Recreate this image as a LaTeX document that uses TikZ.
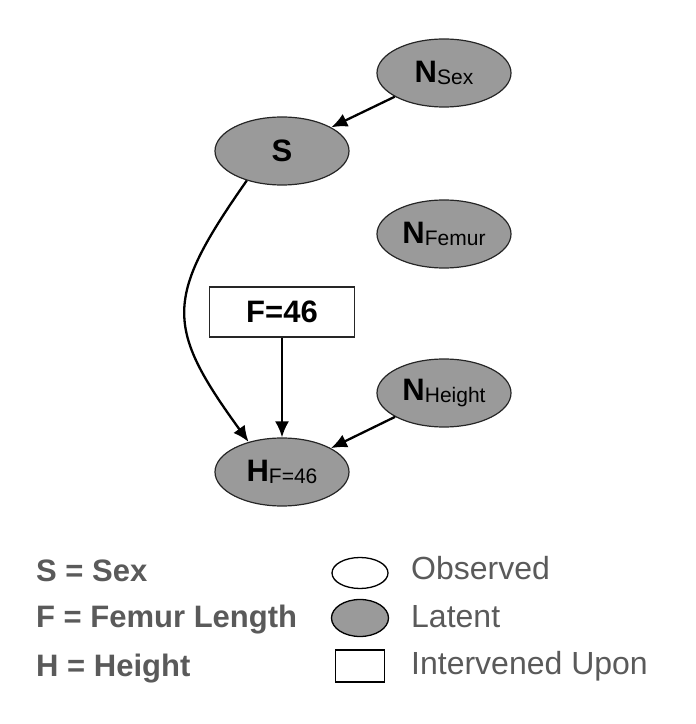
\documentclass[tikz,border=0pt]{standalone}
\usepackage{fontspec}
\setmainfont{Liberation Sans}
\usepackage{tikz}
\usetikzlibrary{positioning,shapes.geometric,arrows.meta}
\definecolor{latentgray}{HTML}{9A9A9A}
\definecolor{legendgray}{HTML}{5A5A5A}
\def\DAGWidth{162pt}
\def\DAGRise{78pt}
\newcommand{\subtxt}[1]{\raisebox{-2pt}{\fontsize{21}{21}\selectfont\mdseries #1}}
\tikzset{
	latent/.style={ellipse,draw=black!85,line width=1.2pt,fill=latentgray,
		minimum width=134pt,minimum height=68pt,inner sep=0pt,
		font=\fontsize{31}{31}\selectfont\bfseries},
	intervened/.style={rectangle,draw=black!85,line width=1.2pt,fill=white,
		minimum width=145pt,minimum height=50pt,inner sep=0pt,
		font=\fontsize{31}{31}\selectfont\bfseries},
	causal/.style={line width=2.3pt,-{Latex[length=16pt,width=14pt]}},
	keytext/.style={anchor=base west,inner sep=0pt,text=legendgray,
		font=\fontsize{31}{31}\selectfont\bfseries},
	keylabel/.style={anchor=base west,inner sep=0pt,text=legendgray,
		font=\fontsize{32}{32}\selectfont},
}

\begin{document}
\begin{tikzpicture}[x=1pt,y=1pt,on grid]
	\useasboundingbox (0,0) rectangle (696,724);
	% 
	\node[latent] (S) at (282,573) {S};
	\node[latent,above right=\DAGRise and \DAGWidth of S] (NS) {N\subtxt{Sex}};
	\node[intervened,below=161pt of S] (F) {F=46};
	\node[latent,above right=\DAGRise and \DAGWidth of F] (NF) {N\subtxt{Femur}};
	\node[latent,below=160pt of F] (H) {H\subtxt{F=46}};
	\node[latent,above right=79pt and \DAGWidth of H] (NH) {N\subtxt{Height}};
	% 
	\draw[causal] (NS) -- (S);
	\draw[causal] (S.220) to[out=235,in=126,looseness=1.4] (H.138);
	\draw[causal] (F) -- (H);
	\draw[causal] (NH) -- (H);
	% legend
	\node[keytext] (keyS) at (36,142) {S = Sex};
	\node[keytext] (keyF) at (36,96) {F = Femur Length};
	\node[keytext] (keyH) at (36,47) {H = Height};
	\node[ellipse,draw=black,line width=1.3pt,fill=white,minimum width=56pt,minimum height=31pt,inner sep=0pt] (obs) at (360,151) {};
	\node[ellipse,draw=black,line width=1.3pt,fill=latentgray,minimum width=57pt,minimum height=37pt,inner sep=0pt] (lat) at (360,106) {};
	\node[rectangle,draw=black,line width=1.3pt,fill=white,minimum width=49pt,minimum height=32pt,inner sep=0pt] (int) at (360,58) {};
	\node[keylabel] (obsL) at (411,144) {Observed};
	\node[keylabel] (latL) at (411,96) {Latent};
	\node[keylabel] (intL) at (411,49) {Intervened Upon};
\end{tikzpicture}
\end{document}
